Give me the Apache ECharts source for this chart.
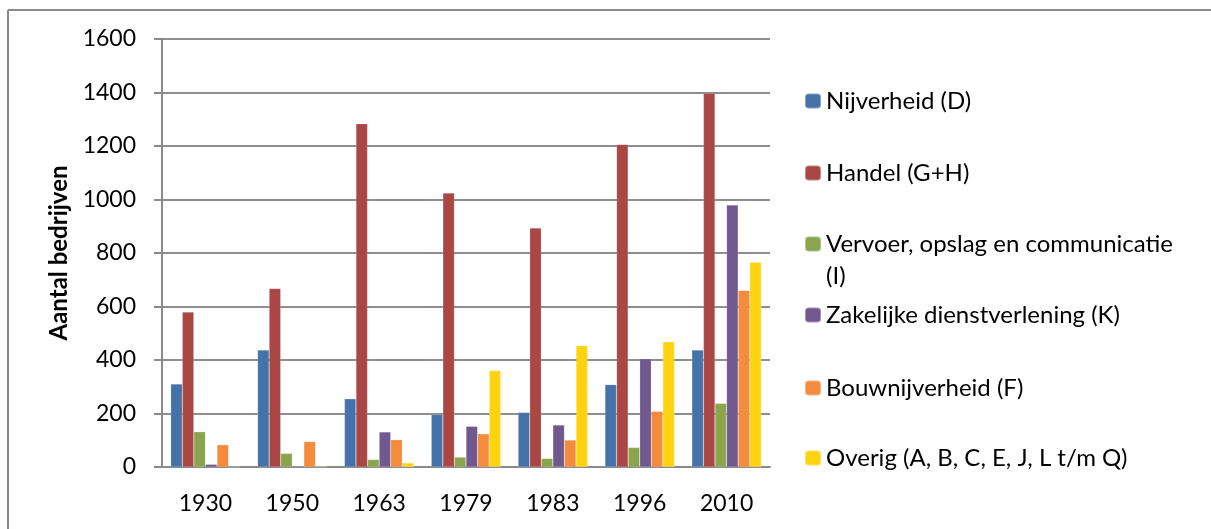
<!DOCTYPE html>
<html>
<head>
<meta charset="utf-8">
<script src="https://cdn.jsdelivr.net/npm/echarts@6/dist/echarts.min.js"></script>
<style>html,body{margin:0;padding:0;background:#fff}#c{width:1211px;height:529px}</style>
</head>
<body>
<div id="c"></div>
<script>
const years = ['1930','1950','1963','1979','1983','1996','2010'];
const seriesNames = ['Nijverheid (D)','Handel (G+H)','Vervoer, opslag en communicatie','Zakelijke dienstverlening (K)','Bouwnijverheid (F)','Overig (A, B, C, E, J, L t/m Q)'];
const nijverheid = [310, 437, 255, 196, 204, 308, 437];
const handel = [579, 667, 1283, 1024, 893, 1206, 1397];
const vervoer = [132, 51, 28, 37, 32, 73, 238];
const zakelijk = [10, 4, 131, 152, 157, 405, 979];
const bouw = [83, 95, 102, 124, 101, 208, 660];
const overig = [0, 3, 15, 361, 453, 468, 765];
const yTicks = [0, 200, 400, 600, 800, 1000, 1200, 1400, 1600];
const colors = ['#4572A8','#AA4644','#8AA54D','#71588F','#F58B3D','#FFD30F'];
const allData = [nijverheid, handel, vervoer, zakelijk, bouw, overig];

const FONT = 'Lato';
const legendCenters = [101, 173, 244, 315, 388, 458];

const chart = echarts.init(document.getElementById('c'));
const option = {
  animation: false,
  backgroundColor: '#fff',
  textStyle: {fontFamily: FONT},
  grid: {left: 162, right: 441, top: 39, bottom: 62},
  xAxis: {
    type: 'category',
    data: years,
    axisLine: {lineStyle: {color: '#8a8a8a', width: 2}},
    axisTick: {show: false},
    axisLabel: {color: '#000', fontSize: 23, fontFamily: FONT, margin: 25}
  },
  yAxis: {
    type: 'value',
    min: yTicks[0], max: yTicks[yTicks.length-1], interval: 200,
    name: 'Aantal bedrijven',
    nameLocation: 'middle',
    nameGap: 91,
    nameTextStyle: {color: '#000', fontSize: 24, fontWeight: 'bold', fontFamily: FONT},
    axisLine: {show: true, lineStyle: {color: '#8a8a8a', width: 2}},
    axisTick: {show: true, length: 8, lineStyle: {color: '#8a8a8a', width: 2}},
    axisLabel: {color: '#000', fontSize: 23, fontFamily: FONT, margin: 26, formatter: v => String(v)},
    splitLine: {lineStyle: {color: '#8e8e8e', width: 2}}
  },
  legend: seriesNames.map((n, i) => ({
    data: [n],
    orient: 'vertical',
    left: 804,
    top: legendCenters[i] - 12,
    padding: 0,
    itemWidth: 16,
    itemHeight: 15,
    selectedMode: false,
    textStyle: {color: '#000', fontSize: 24, fontFamily: FONT, lineHeight: 24}
  })),
  graphic: [
    {type: 'line', shape: {x1: 8, y1: 10, x2: 8, y2: 529}, style: {stroke: '#8a8a8a', lineWidth: 2}},
    {type: 'line', shape: {x1: 8, y1: 10, x2: 1211, y2: 10}, style: {stroke: '#8a8a8a', lineWidth: 2}},
    {type: 'text', left: 826, top: 264, style: {text: '(I)', fontSize: 24, fontFamily: FONT, fill: '#000'}}
  ],
  series: seriesNames.map((n, i) => ({
    name: n,
    type: 'bar',
    data: allData[i],
    barGap: '0%',
    barCategoryGap: '20%',
    itemStyle: {color: colors[i], borderColor: 'rgba(255,255,255,0.35)', borderWidth: 0.5}
  }))
};
chart.setOption(option);
</script>
</body>
</html>
